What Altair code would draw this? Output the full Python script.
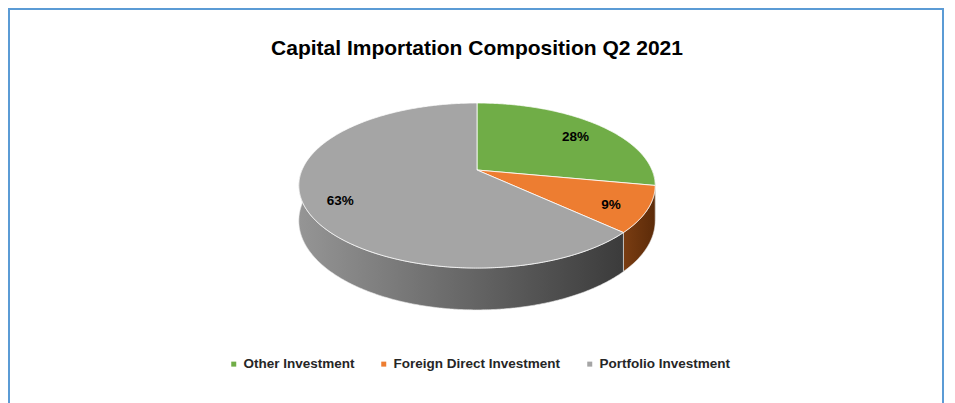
import numpy as np
import pandas as pd
import altair as alt

# ---------------- data ----------------
title_text = "Capital Importation Composition Q2 2021"
categories = ["Other Investment", "Foreign Direct Investment", "Portfolio Investment"]
values = [28, 9, 63]
label_text = ["28%", "9%", "63%"]

# ---------------- style ----------------
top_colors = ["#70AD47", "#ED7D31", "#A5A5A5"]
side_stops = [["#4f7d33", "#3b5e26"], ["#7a3d12", "#5c2b09"], ["#959595", "#3b3b3b"]]
TILT = 79.6 / 175.0     # vertical squash of the tilted pie
PERSP = 0.188           # perspective strength
DEPTH = 34 / 175.0      # thickness of the pie
LABEL_R = 0.80
W, H = 936, 400
CX, CY, R = 469, 162, 175.0
xdom = [-CX / R, (W - CX) / R]
ydom = [-(H - CY) / R, CY / R]


def proj(theta_deg, r=1.0, drop=0.0):
    t = np.radians(theta_deg)
    s = 1.0 / (1.0 + PERSP * r * np.cos(t))
    return r * np.sin(t) * s, r * np.cos(t) * TILT * s - drop * s


total = float(sum(values))
ends = np.cumsum(values) / total * 360.0
starts = np.concatenate([[0.0], ends[:-1]])

top_rows, side_rows, lab_rows = [], [], []
for i, cat in enumerate(categories):
    a, b = starts[i], ends[i]
    n = max(2, int(b - a) * 2 + 1)
    angs = np.linspace(a, b, n)
    o = 0
    top_rows.append(dict(cat=cat, order=o, X=0.0, Y=0.0)); o += 1
    for th in angs:
        X, Y = proj(th)
        top_rows.append(dict(cat=cat, order=o, X=X, Y=Y)); o += 1
    top_rows.append(dict(cat=cat, order=o, X=0.0, Y=0.0))

    lo, hi = max(a, 90.0), min(b, 270.0)
    if lo < hi:
        m = max(2, int(hi - lo) * 2 + 1)
        sang = np.linspace(lo, hi, m)
        o = 0
        for th in sang:
            X, Y = proj(th)
            side_rows.append(dict(cat=cat, order=o, X=X, Y=Y)); o += 1
        for th in sang[::-1]:
            X, Y = proj(th, drop=DEPTH)
            side_rows.append(dict(cat=cat, order=o, X=X, Y=Y)); o += 1
        X, Y = proj(sang[0])
        side_rows.append(dict(cat=cat, order=o, X=X, Y=Y))

    X, Y = proj((a + b) / 2.0, r=LABEL_R)
    lab_rows.append(dict(cat=cat, X=X, Y=Y, lab=label_text[i]))

top_df = pd.DataFrame(top_rows)
side_df = pd.DataFrame(side_rows)
lab_df = pd.DataFrame(lab_rows)

xenc = alt.X("X:Q", scale=alt.Scale(domain=xdom, nice=False, zero=False), axis=None)
yenc = alt.Y("Y:Q", scale=alt.Scale(domain=ydom, nice=False, zero=False), axis=None)

layers = []
for i, cat in enumerate(categories):
    sub = side_df[side_df["cat"] == cat]
    if len(sub) == 0:
        continue
    grad = alt.Gradient(
        gradient="linear",
        stops=[alt.GradientStop(offset=0, color=side_stops[i][0]),
               alt.GradientStop(offset=1, color=side_stops[i][1])],
        x1=0, x2=1, y1=0, y2=0,
    )
    layers.append(
        alt.Chart(sub).mark_line(filled=True, fill=grad, stroke="#e8e8e8", strokeWidth=0.6)
        .encode(x=xenc, y=yenc, order=alt.Order("order:Q"))
    )

top = alt.Chart(top_df).mark_line(filled=True, stroke="#ffffff", strokeWidth=0.8, strokeJoin="round").encode(
    x=xenc, y=yenc,
    order=alt.Order("order:Q"),
    color=alt.Color(
        "cat:N",
        scale=alt.Scale(domain=categories, range=top_colors),
        sort=categories,
        legend=alt.Legend(
            orient="none", legendX=219, legendY=349, direction="horizontal", title=None,
            symbolType="square", symbolSize=25, symbolStrokeWidth=0,
            labelFont="Liberation Sans", labelFontSize=13.5, labelFontWeight="bold",
            labelColor="#262626", columnPadding=22, labelOffset=3, labelLimit=0,
        ),
    ),
)
layers.append(top)

labels = alt.Chart(lab_df).mark_text(
    font="Liberation Sans", fontSize=13.5, fontWeight="bold", color="#000000", dy=4
).encode(x=xenc, y=yenc, text="lab:N")
layers.append(labels)

title = alt.Chart(pd.DataFrame({"t": [title_text]})).mark_text(
    font="Liberation Sans", fontSize=21, fontWeight="bold", color="#000000"
).encode(x=alt.value(CX), y=alt.value(41), text="t:N")
layers.append(title)

chart = alt.layer(*layers).properties(
    width=W, height=H, padding=0, autosize="none", background="white"
).configure_view(stroke="#5B9BD5", strokeWidth=4)

chart.save("out.html", embed_options={"renderer": "svg", "actions": False})
